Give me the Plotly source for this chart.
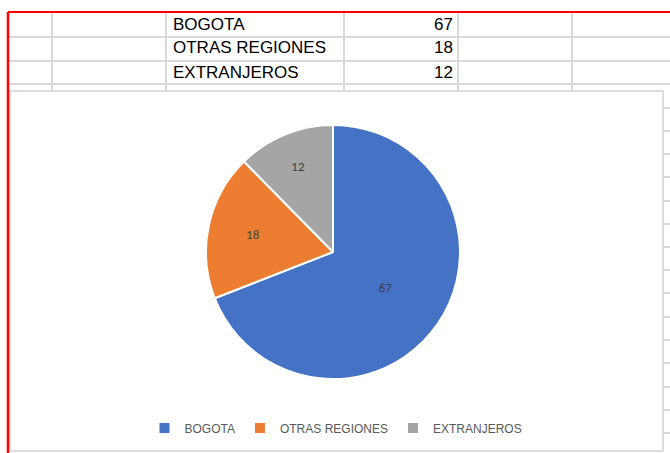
import plotly.graph_objects as go

# data from the sheet
labels = ["BOGOTA", "OTRAS REGIONES", "EXTRANJEROS"]
values = [67, 18, 12]
colors = ["#4472C4", "#ED7D31", "#A5A5A5"]

W, H = 670, 453


def px(x):
    return x / W


def py(y):
    return 1 - y / H


fig = go.Figure()

# pie, centered around (333, 252) px
cx, cy, r = 333, 252, 127
fig.add_trace(go.Pie(
    labels=labels, values=values, sort=False, direction="clockwise", rotation=0,
    marker=dict(colors=colors, line=dict(color="white", width=2)),
    textinfo="value", textposition="inside", insidetextorientation="horizontal",
    textfont=dict(family="Carlito, Calibri, Liberation Sans, sans-serif", size=13, color="#404040"),
    domain=dict(x=[px(cx - r), px(cx + r)], y=[py(cy + r), py(cy - r)]),
    hoverinfo="label+value",
))

shapes = []
grid = "#d9d9d9"
# chart frame
shapes.append(dict(type="rect", xref="paper", yref="paper", x0=px(10), x1=px(663), y0=py(451), y1=py(91),
                   line=dict(color="#d4d4d4", width=1.5), fillcolor="white", layer="below"))
# sheet gridlines above the chart
for y in [37, 61, 84]:
    shapes.append(dict(type="line", xref="paper", yref="paper", x0=px(8), x1=1, y0=py(y), y1=py(y),
                       line=dict(color=grid, width=2)))
for x in [52, 166, 344, 458, 572]:
    shapes.append(dict(type="line", xref="paper", yref="paper", x0=px(x), x1=px(x), y0=py(13), y1=py(91),
                       line=dict(color=grid, width=2)))
# cells to the right of the chart
for y in [108, 131, 154, 177, 201, 224, 247, 270, 293, 317, 340, 363, 387, 410, 433]:
    shapes.append(dict(type="line", xref="paper", yref="paper", x0=px(663), x1=1, y0=py(y), y1=py(y),
                       line=dict(color=grid, width=2)))
# red selection border
shapes.append(dict(type="line", xref="paper", yref="paper", x0=px(8), x1=1, y0=py(12), y1=py(12),
                   line=dict(color="#ff0000", width=2)))
shapes.append(dict(type="line", xref="paper", yref="paper", x0=px(8), x1=px(8), y0=py(12), y1=0,
                   line=dict(color="#ff0000", width=2.5)))

annotations = []
row_y = [25, 48, 72]
cell_font = dict(family="Liberation Sans, Arial, sans-serif", size=17, color="#000000")
for lab, val, y in zip(labels, values, row_y):
    annotations.append(dict(xref="paper", yref="paper", x=px(171), y=py(y), text=lab, showarrow=False,
                            xanchor="left", yanchor="middle", font=cell_font))
    annotations.append(dict(xref="paper", yref="paper", x=px(455), y=py(y), text=str(val), showarrow=False,
                            xanchor="right", yanchor="middle", font=cell_font))

fig.update_layout(
    width=W, height=H,
    margin=dict(l=0, r=0, t=0, b=0),
    paper_bgcolor="white",
    plot_bgcolor="white",
    shapes=shapes,
    annotations=annotations,
    showlegend=True,
    legend=dict(orientation="h", x=px(336), xanchor="center", y=py(428), yanchor="middle",
                font=dict(family="Liberation Sans, Arial, sans-serif", size=12, color="#595959"),
                itemwidth=30, bgcolor="rgba(0,0,0,0)"),
)

fig.write_html("out.html", config={"displayModeBar": False},
               post_script="document.body.style.margin='0px';")
